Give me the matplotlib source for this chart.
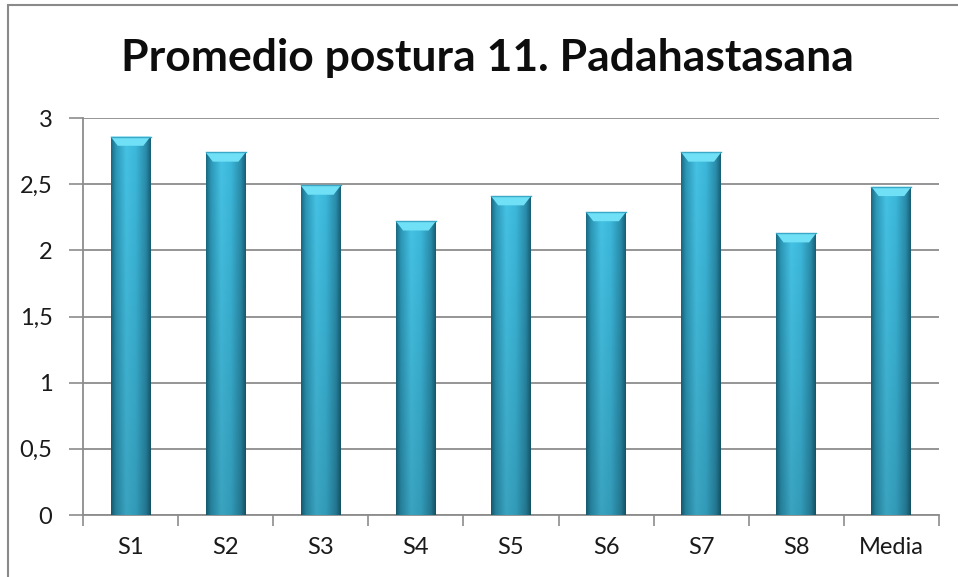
import matplotlib
matplotlib.use("Agg")
import matplotlib.pyplot as plt
import numpy as np
from matplotlib.colors import LinearSegmentedColormap
from matplotlib.patches import Rectangle, Polygon

# Datos del grafico
categorias = ["S1", "S2", "S3", "S4", "S5", "S6", "S7", "S8", "Media"]
valores = [2.86, 2.74, 2.49, 2.22, 2.41, 2.29, 2.74, 2.13, 2.48]
ticks_y = [0, 0.5, 1, 1.5, 2, 2.5, 3]
etiquetas_y = ["0", "0,5", "1", "1,5", "2", "2,5", "3"]
titulo = "Promedio postura 11. Padahastasana"

plt.rcParams['font.family'] = ['Lato', 'DejaVu Sans']

fig = plt.figure(figsize=(9.58, 5.77), dpi=100)
fig.patch.set_facecolor("white")

# marco gris del grafico (solo se ven izquierda y arriba)
fig.patches.append(Rectangle((8 / 958, -0.2), 1.2, 1.2 - 5 / 577,
                             transform=fig.transFigure, fill=False,
                             edgecolor="#8a8a8a", linewidth=1.5))

ax = fig.add_axes([83 / 958, 62 / 577, (939 - 83) / 958, (515 - 118) / 577])

x = np.arange(len(categorias))
ancho = 0.42

# degradado horizontal tipo cilindro
cmap = LinearSegmentedColormap.from_list("cil", [
    (0.0, "#1a6a82"), (0.12, "#2c98b8"), (0.38, "#45c2e4"),
    (0.62, "#3cb8db"), (0.88, "#2a8dab"), (1.0, "#186076")])
perfil = cmap(np.linspace(0, 1, 64))[None, :, :3]
vert = np.linspace(1.0, 0.84, 128)[:, None, None]
grad = np.clip(perfil * vert, 0, 1)

barras = ax.bar(x, valores, width=ancho, color="#35a9cc", zorder=3,
                edgecolor="none")
tapa = 0.07
for b, v in zip(barras, valores):
    x0 = b.get_x()
    w = b.get_width()
    im = ax.imshow(grad, extent=(x0, x0 + w, 0, v), aspect="auto",
                   origin="upper", zorder=3, interpolation="bilinear")
    im.set_clip_path(b)
    # bisel superior mas claro
    cap = Polygon([(x0, v), (x0 + w, v), (x0 + w * 0.82, v - tapa),
                   (x0 + w * 0.18, v - tapa)], closed=True,
                  facecolor="#6fe0f6", edgecolor="none", zorder=4)
    ax.add_patch(cap)
    ax.plot([x0, x0 + w], [v, v], color="#3aa8c6", lw=1.0, zorder=5)

ax.set_xlim(-0.5, len(categorias) - 0.5)
ax.set_ylim(0, 3)
ax.set_yticks(ticks_y)
ax.set_yticklabels(etiquetas_y)
ax.yaxis.grid(True, color="#8c8c8c", linewidth=1.3, zorder=0)
ax.set_axisbelow(True)

ax.set_xticks(x)
ax.set_xticklabels(categorias)
ax.set_xticks(np.arange(-0.5, len(categorias)), minor=True)
ax.tick_params(axis="x", which="major", length=0, pad=16, labelsize=17,
               labelcolor="#1a1a1a")
ax.tick_params(axis="x", which="minor", length=8, width=1.2, color="#8c8c8c",
               direction="out")
ax.tick_params(axis="y", length=10, width=1.2, color="#8c8c8c", pad=12,
               labelsize=17, labelcolor="#1a1a1a")

for lado in ["top", "right"]:
    ax.spines[lado].set_visible(False)
for lado in ["left", "bottom"]:
    ax.spines[lado].set_color("#8c8c8c")
    ax.spines[lado].set_linewidth(1.3)

fig.text(487 / 958, 1 - 58 / 577, titulo, ha="center", va="center",
         fontsize=32, fontweight="bold", color="#0d0d0d")

fig.savefig("out.png", dpi=100, facecolor="white")
